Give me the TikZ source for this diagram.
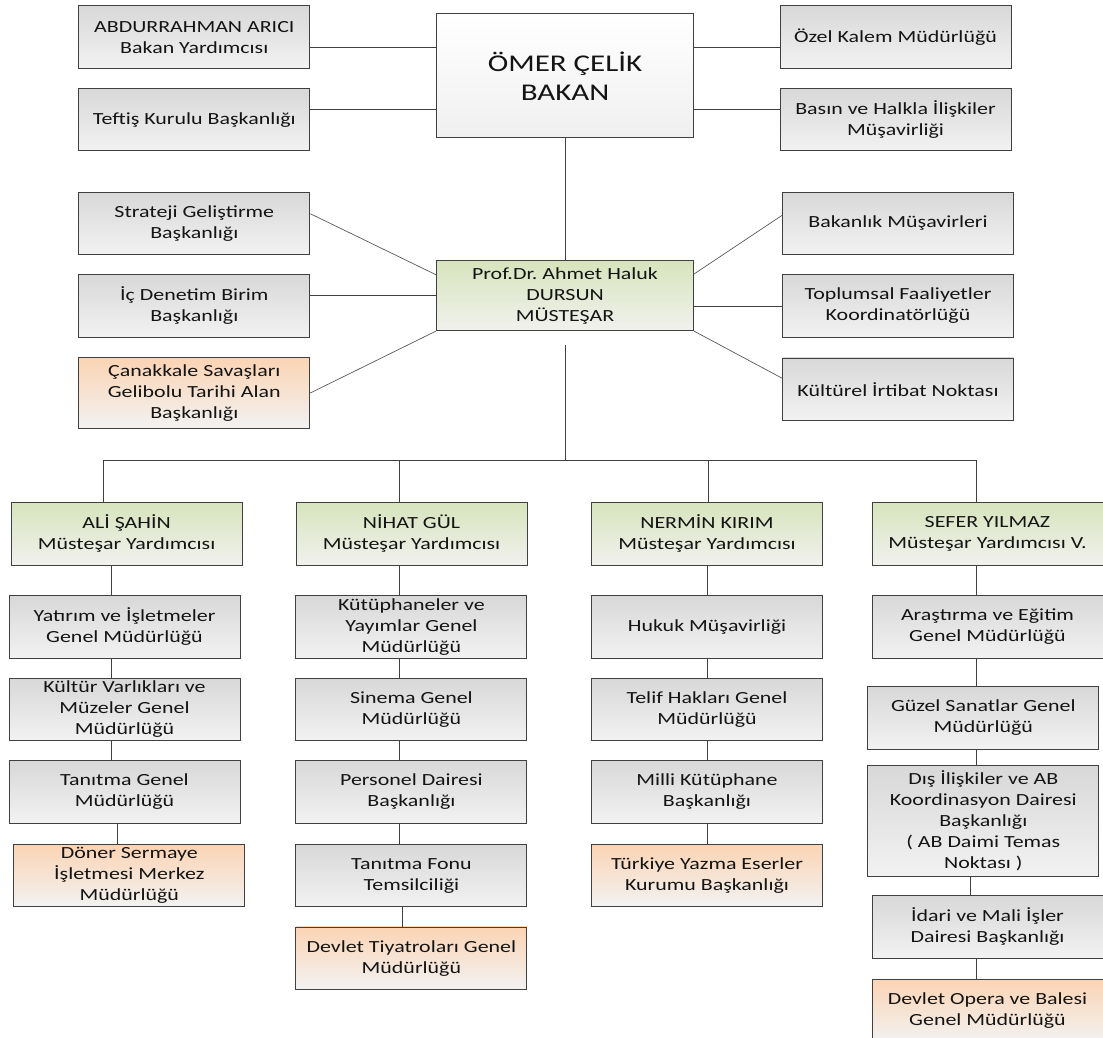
\documentclass[tikz,border=0pt]{standalone}
\usepackage{fontspec}
\setmainfont{Carlito}[FakeStretch=1.29]
\usepackage{tikz}
\usetikzlibrary{calc}
\frenchspacing

\definecolor{graytop}{HTML}{D8D8D8}
\definecolor{graybot}{HTML}{F2F2F2}
\definecolor{greentop}{HTML}{D7E4BD}
\definecolor{greenbot}{HTML}{F1F1EE}
\definecolor{orangetop}{HTML}{FBD4B4}
\definecolor{orangebot}{HTML}{F2F2F2}
\definecolor{edge}{HTML}{404040}

\begin{document}
\begin{tikzpicture}[
  x=1pt,y=-1pt,
  font=\fontsize{17}{21}\selectfont,
  unit/.style={draw=edge,line width=0.9pt,align=center,minimum width=231pt,
               minimum height=62.5pt,inner xsep=2pt,inner ysep=0pt,text=black!92,
               top color=graytop,bottom color=graybot},
  deputy/.style={unit,top color=greentop,bottom color=greenbot},
  related/.style={unit,top color=orangetop,bottom color=orangebot},
  chief/.style={unit,minimum width=257.7pt,minimum height=123.7pt,
                top color=white,bottom color=black!6,
                font=\fontsize{24}{29}\selectfont},
  link/.style={draw=edge,line width=0.9pt},
  diag/.style={draw=black!65,line width=0.7pt}]

\useasboundingbox (0,0) rectangle (1103,1038);
\clip (0,0) rectangle (1103,1038);

% ---- minister level -----------------------------------------------------
\node[chief] (bakan) at (565,75.8) {ÖMER ÇELİK\\BAKAN};
\node[unit] (abd)    at (194.3,37.2)  {ABDURRAHMAN ARICI\\Bakan Yardımcısı};
\node[unit] (teftis) at (194.3,119.7) {Teftiş Kurulu Başkanlığı};
\node[unit] (ozel)   at (895.5,37.2)  {Özel Kalem Müdürlüğü};
\node[unit] (basin)  at (895.5,119.7) {Basın ve Halkla İlişkiler\\Müşavirliği};

% ---- undersecretary ------------------------------------------------------
\node[deputy,minimum width=257.3pt,minimum height=70pt] (mus) at (565,295.7)
  {Prof.Dr. Ahmet Haluk\\DURSUN\\MÜSTEŞAR};
\node[unit] (strateji) at (194.3,223.3) {Strateji Geliştirme\\Başkanlığı};
\node[unit] (icden)    at (194.3,306)   {İç Denetim Birim\\Başkanlığı};
\node[related,minimum height=70.6pt] (canak) at (194.3,393)
  {Çanakkale Savaşları\\Gelibolu Tarihi Alan\\Başkanlığı};
\node[unit] (musav)    at (898,223.3) {Bakanlık Müşavirleri};
\node[unit] (toplum)   at (898,306)   {Toplumsal Faaliyetler\\Koordinatörlüğü};
\node[unit] (irtibat)  at (898,389.2) {Kültürel İrtibat Noktası};

% ---- deputy undersecretaries ---------------------------------------------
\node[deputy] (ali)    at (126.6,533.8) {ALİ ŞAHİN\\Müsteşar Yardımcısı};
\node[deputy] (nihat)  at (411.5,533.8) {NİHAT GÜL\\Müsteşar Yardımcısı};
\node[deputy] (nermin) at (707,533.8)   {NERMİN KIRIM\\Müsteşar Yardımcısı};
\node[deputy] (sefer)  at (987.5,533.8) {SEFER YILMAZ\\Müsteşar Yardımcısı V.};

% ---- column 1
\node[unit] (yatirim) at (124.5,626.9) {Yatırım ve İşletmeler\\Genel Müdürlüğü};
\node[unit] (kultur)  at (124.5,709.5) {Kültür Varlıkları ve\\Müzeler Genel\\Müdürlüğü};
\node[unit] (tanitma) at (124.5,792)   {Tanıtma Genel\\Müdürlüğü};
\node[related] (doner) at (129.3,875.5) {Döner Sermaye\\İşletmesi Merkez\\Müdürlüğü};

% ---- column 2
\node[unit] (kutup)    at (411.4,626.9) {Kütüphaneler ve\\Yayımlar Genel\\Müdürlüğü};
\node[unit] (sinema)   at (411.4,709.5) {Sinema Genel\\Müdürlüğü};
\node[unit] (personel) at (411.4,792)   {Personel Dairesi\\Başkanlığı};
\node[unit] (fonu)     at (411.4,875.5) {Tanıtma Fonu\\Temsilciliği};
\node[related] (tiyatro) at (411.4,958.2) {Devlet Tiyatroları Genel\\Müdürlüğü};

% ---- column 3
\node[unit] (hukuk) at (707,626.9) {Hukuk Müşavirliği};
\node[unit] (telif) at (707,709.5) {Telif Hakları Genel\\Müdürlüğü};
\node[unit] (milli) at (707,792)   {Milli Kütüphane\\Başkanlığı};
\node[related] (yazma) at (707,875.5) {Türkiye Yazma Eserler\\Kurumu Başkanlığı};

% ---- column 4
\node[unit] (arastirma) at (987.5,626.9) {Araştırma ve Eğitim\\Genel Müdürlüğü};
\node[unit] (guzel)     at (983.3,717.8) {Güzel Sanatlar Genel\\Müdürlüğü};
\node[unit,minimum height=111.4pt] (dis) at (983.3,821)
  {Dış İlişkiler ve AB\\Koordinasyon Dairesi\\Başkanlığı\\( AB Daimi Temas\\Noktası )};
\node[unit] (idari)     at (987.5,926.7) {İdari ve Mali İşler\\Dairesi Başkanlığı};
\node[related] (opera)  at (987.5,1010.5) {Devlet Opera ve Balesi\\Genel Müdürlüğü};

% ---- edges ------------------------------------------------------------
\draw[link] ([yshift=-10pt]abd.east) -- ([yshift=-10pt]abd.east -| bakan.west);
\draw[link] ([yshift=10.7pt]teftis.east) -- ([yshift=10.7pt]teftis.east -| bakan.west);
\draw[link] ([yshift=-10pt]ozel.west) -- ([yshift=-10pt]ozel.west -| bakan.east);
\draw[link] ([yshift=10.7pt]basin.west) -- ([yshift=10.7pt]basin.west -| bakan.east);
\draw[link] (bakan.south) -- (mus.north);

\draw[diag] ([yshift=9.6pt]strateji.east) -- ([yshift=21pt]mus.west);
\draw[link] (icden.east |- mus.west) -- (mus.west);
\draw[diag] (canak.east) -- (mus.south west);
\draw[diag] ([yshift=8pt]musav.west) -- ([yshift=21.7pt]mus.east);
\draw[link] (toplum.west) -- (toplum.west -| mus.east);
\draw[diag] (mus.south east) -- ([yshift=11pt]irtibat.west);

\coordinate (busL) at (103,460.7);
\coordinate (busR) at (976.6,460.7);
\draw[link] ([yshift=-14.3pt]mus.south) -- (mus.south |- busL);
\draw[link] (busL) -- (busR);
\foreach \n/\x in {ali/103,nihat/399,nermin/708.4,sefer/976.6}
  \draw[link] (\x,0 |- busL) -- (\x,0 |- \n.north);

\foreach \a/\b/\x in {ali/yatirim/111.8,yatirim/kultur/111.8,kultur/tanitma/111.8,
    tanitma/doner/117,nihat/kutup/399,kutup/sinema/399,sinema/personel/399,
    personel/fonu/399,fonu/tiyatro/402,nermin/hukuk/707,hukuk/telif/707,
    telif/milli/707,milli/yazma/707,sefer/arastirma/976,arastirma/guzel/976,
    guzel/dis/976,dis/idari/970,idari/opera/976}
  \draw[link] (\x,0 |- \a.south) -- (\x,0 |- \b.north);
\end{tikzpicture}
\end{document}
